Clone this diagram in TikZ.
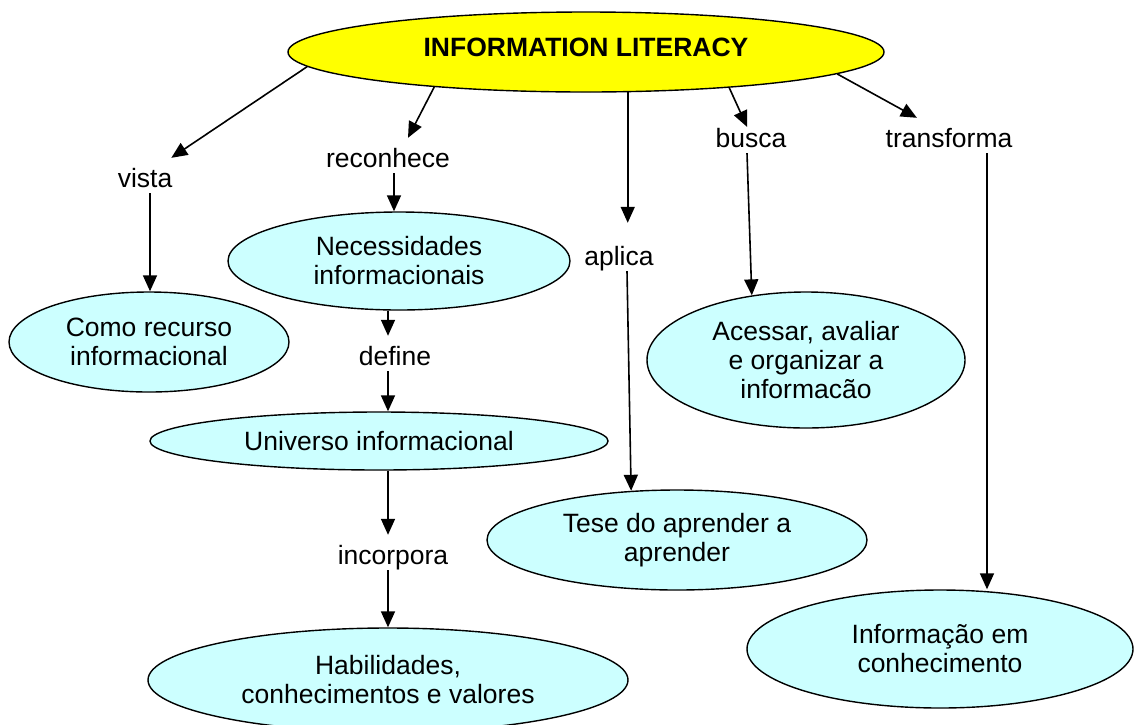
\documentclass[tikz,border=0pt]{standalone}
\usepackage{fontspec}
\setmainfont{Liberation Sans}
\usetikzlibrary{arrows.meta,shapes.geometric,calc}
\definecolor{titleyellow}{RGB}{255,255,0}
\definecolor{conceptcyan}{RGB}{204,255,255}
\begin{document}
\begin{tikzpicture}[x=1pt,y=-1pt,
  every node/.style={font=\fontsize{26.5}{29}\selectfont},
  concept/.style={ellipse,draw,line width=1.4pt,fill=conceptcyan,inner sep=0pt,align=center},
  linklabel/.style={inner xsep=0pt,inner ysep=0pt,text height=29pt,text depth=6pt,anchor=base},
  arr/.style={line width=1.6pt,-{Triangle[length=16pt,width=14pt]}}]
\useasboundingbox (0,0) rectangle (1135,724);

% concepts
\node[concept,fill=titleyellow,minimum width=596pt,minimum height=80pt,
      font=\bfseries\fontsize{26.5}{29}\selectfont,text depth=10pt] (top) at (586,52) {INFORMATION LITERACY};
\node[concept,minimum width=280pt,minimum height=100pt] (como) at (149,342) {Como recurso\\informacional};
\node[concept,minimum width=342pt,minimum height=98pt] (necess) at (399,261) {Necessidades\\informacionais};
\node[concept,minimum width=458pt,minimum height=58pt] (univ) at (379,441) {Universo informacional};
\node[concept,minimum width=480pt,minimum height=104pt] (habil) at (388,680) {Habilidades,\\conhecimentos e valores};
\node[concept,minimum width=380pt,minimum height=100pt] (tese) at (677,540) {Tese do aprender a\\aprender};
\node[concept,minimum width=318pt,minimum height=136pt] (acess) at (806,360) {Acessar, avaliar\\e organizar a\\informacão};
\node[concept,minimum width=386pt,minimum height=118pt] (inform) at (940,649) {Informação em\\conhecimento};

% link labels
\node[linklabel] (vista) at (145,187) {vista};
\node[linklabel] (reconhece) at (388,167) {reconhece};
\node[linklabel] (aplica) at (619,265) {aplica};
\node[linklabel] (busca) at (751,147) {busca};
\node[linklabel] (transforma) at (949,147) {transforma};
\node[linklabel] (define) at (395,365) {define};
\node[linklabel] (incorpora) at (393,564) {incorpora};

% connectors from the title
\draw[arr] (top.183) -- (vista);
\draw[arr] (top.193) -- ($(reconhece.north)+(20,0)$);
\draw[arr,shorten >=13pt] (top.316) -- (top.316 |- aplica.north);
\draw[arr,shorten >=-10pt] (top.346) -- (busca);
\draw[arr] (top.355.5) -- (transforma);

% second level
\draw[arr] ([xshift=5pt]vista.south) -- ([xshift=5pt]vista.south |- como.north);
\draw[arr] ([xshift=6pt]reconhece.south) -- ([xshift=6pt]reconhece.south |- necess.north);
\draw[arr] ([xshift=-11pt]necess.south) -- ([xshift=-11pt]necess.south |- define.north);
\draw[arr] ([xshift=-7pt]define.south) -- ([xshift=-7pt]define.south |- univ.north);
\draw[arr] ([xshift=9pt]univ.south) -- ([xshift=9pt]univ.south |- incorpora.north);
\draw[arr] ([xshift=-5pt]incorpora.south) -- ([xshift=-5pt]incorpora.south |- habil.north);
\draw[arr] ([xshift=8pt]aplica.south) -- (tese.133);
\draw[arr] ([xshift=-4pt]busca.south) -- (acess.130);
\draw[arr] ([xshift=38pt]transforma.south) -- ([xshift=38pt]transforma.south |- inform.north);
\end{tikzpicture}
\end{document}
